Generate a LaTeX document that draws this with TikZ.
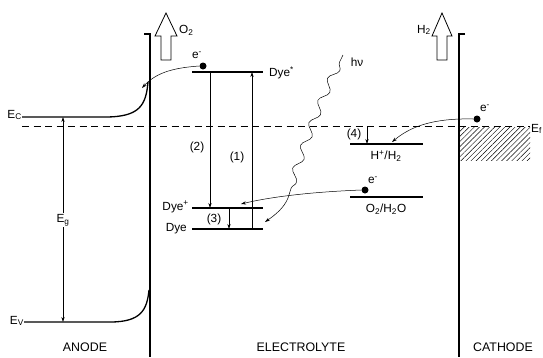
\documentclass[tikz,border=0pt]{standalone}
\usepackage{fontspec}
\setmainfont{Liberation Sans}
\usetikzlibrary{arrows.meta,decorations.pathmorphing,patterns.meta}
\begin{document}
\begin{tikzpicture}[x=1pt,y=-1pt, font=\fontsize{11.8}{14}\selectfont,
  level/.style={line width=1.6pt},
  elec/.style={line width=1.3pt},
  band/.style={line width=1.3pt},
  arr/.style={line width=0.5pt,-{Stealth[length=5pt,width=3.2pt]}},
  darr/.style={line width=0.5pt,{Stealth[length=5pt,width=3.2pt]}-{Stealth[length=5pt,width=3.2pt]}},
  edot/.style={circle,fill,inner sep=0pt,minimum size=7pt},
  hollow/.style={line width=0.8pt},
  lbl/.style={inner sep=1pt},
  region/.style={font=\fontsize{12.4}{14}\selectfont}]
\useasboundingbox (0,0) rectangle (543,357);

% electrodes
\coordinate (aH) at (144,34); \coordinate (aT) at (150,34); \coordinate (aB) at (150,357);
\coordinate (cH) at (465,34); \coordinate (cT) at (459,34); \coordinate (cB) at (459,357);
\draw[elec] (aH) -- (aT) -- (aB);
\draw[elec] (cH) -- (cT) -- (cB);

% hollow arrows
\draw[hollow] (161,60) -- (161,36) -- (155,36) -- (166,13) -- (177,36) -- (171,36) -- (171,60) -- cycle;
\node[lbl,anchor=west] (o2) at (178,30) {O\textsubscript{2}};
\draw[hollow] (437,60) -- (437,36) -- (432,36) -- (442,13) -- (452,36) -- (447,36) -- (447,60) -- cycle;
\node[lbl,anchor=east] (h2) at (432,30) {H\textsubscript{2}};

% bands
\coordinate (ecL) at (22,117); \coordinate (ecM) at (105,117); \coordinate (ecT) at (148,82);
\draw[band] (ecL) -- (ecM) .. controls (140,117) and (146,105) .. (ecT);
\coordinate (evL) at (24,322); \coordinate (evM) at (110,322); \coordinate (evT) at (149,290);
\draw[band] (evL) -- (evM) .. controls (141,322) and (147,310) .. (evT);
\node[lbl,anchor=east] (ec) at (23,115) {E\textsubscript{C}};
\node[lbl,anchor=east] (ev) at (25,321) {E\textsubscript{V}};
\coordinate (egT) at (63,117); \coordinate (egB) at (63,322);
\draw[darr] (egT) -- (egB);
\node[lbl,fill=white] (eg) at (63,220) {E\textsubscript{g}};

% Fermi level
\coordinate (fL) at (22,126); \coordinate (fR) at (530,126);
\draw[line width=0.8pt, dash pattern=on 7pt off 4.5pt] (fL) -- (fR);
\node[lbl,anchor=west] (ef) at (530,129) {E\textsubscript{f}};
\fill[pattern={Lines[angle=45,distance=3.6pt,line width=0.45pt]}] (459,127) rectangle (530,160);

% dye levels
\coordinate (dsL) at (192,72); \coordinate (dsR) at (263,72);
\coordinate (dpL) at (192,208); \coordinate (dpR) at (263,208);
\coordinate (dL) at (192,229); \coordinate (dR) at (263,229);
\draw[level] (dsL) -- (dsR);
\draw[level] (dpL) -- (dpR);
\draw[level] (dL) -- (dR);
\node[lbl,anchor=west] (dyes) at (268,73) {Dye\textsuperscript{*}};
\node[lbl,anchor=east] (dyep) at (190,207) {Dye\textsuperscript{+}};
\node[lbl,anchor=east] (dye) at (188,229) {Dye};

% redox levels
\coordinate (hL) at (350,144); \coordinate (hR) at (423,144);
\coordinate (oL) at (350,197); \coordinate (oR) at (423,197);
\draw[level] (hL) -- (hR);
\draw[level] (oL) -- (oR);
\node[lbl] (hh) at (386,156) {H\textsuperscript{+}/H\textsubscript{2}};
\node[lbl] (oo) at (386,209) {O\textsubscript{2}/H\textsubscript{2}O};

% transitions
\coordinate (t2a) at (210,72); \coordinate (t2b) at (210,208);
\draw[arr] (t2a) -- (t2b);
\node[lbl] (l2) at (197,147) {(2)};
\coordinate (t1a) at (252,229); \coordinate (t1b) at (252,72);
\draw[arr] (t1a) -- (t1b);
\node[lbl] (l1) at (237,157) {(1)};
\coordinate (t3a) at (229,208); \coordinate (t3b) at (229,229);
\draw[arr] (t3a) -- (t3b);
\node[lbl] (l3) at (214,219) {(3)};
\coordinate (t4a) at (367,126); \coordinate (t4b) at (367,144);
\draw[arr] (t4a) -- (t4b);
\node[lbl] (l4) at (354,134) {(4)};

% electrons
\node[edot] (d1) at (203,66) {};
\node[lbl] (e1) at (197,55) {e\textsuperscript{-}};
\coordinate (d1t) at (142,88);
\draw[arr] (d1.west) .. controls (170,68) and (155,74) .. (d1t);
\node[edot] (d2) at (477,119) {};
\node[lbl] (e2) at (485,108) {e\textsuperscript{-}};
\coordinate (d2t) at (392,142);
\draw[arr] (d2.west) .. controls (432,118) and (410,127) .. (d2t);
\node[edot] (d3) at (365,190) {};
\node[lbl] (e3) at (373,180) {e\textsuperscript{-}};
\coordinate (d3t) at (241,204);
\draw[arr] (d3.west) .. controls (310,192) and (270,197) .. (d3t);

% photon
\coordinate (pA) at (343,55); \coordinate (pB) at (288,198); \coordinate (pC) at (265,222);
\draw[line width=0.5pt, decorate, decoration={snake,amplitude=4pt,segment length=24pt,pre length=8pt,post length=4pt}]
  (pA) .. controls (318,105) and (300,160) .. (pB);
\draw[arr] (pB) .. controls (284,208) and (275,215) .. (pC);
\node[lbl] (hv) at (357,62) {hν};

% region labels
\node[region] (an) at (85,347) {ANODE};
\node[region] (el) at (301,347) {ELECTROLYTE};
\node[region] (ca) at (503,347) {CATHODE};
\end{tikzpicture}
\end{document}
